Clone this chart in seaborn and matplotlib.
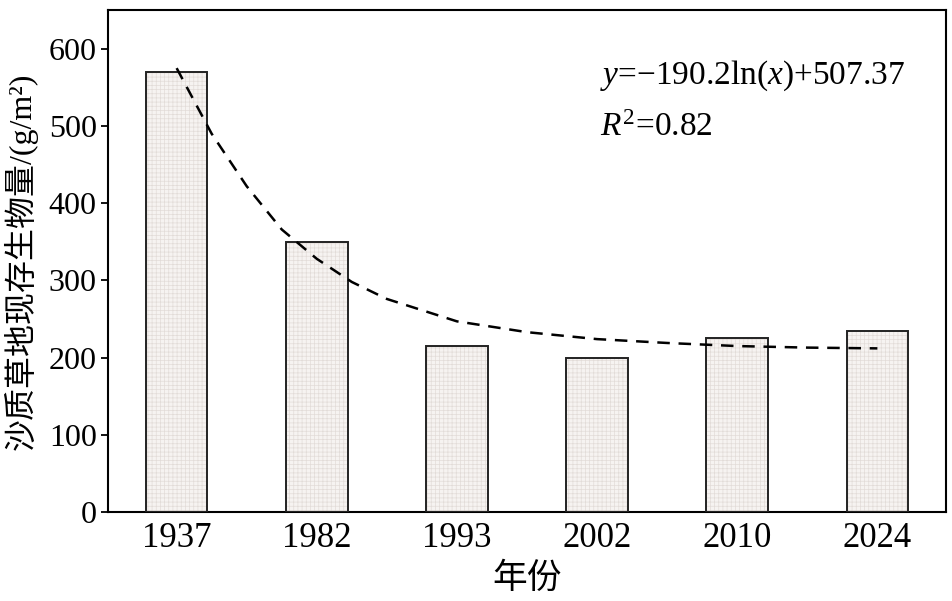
import matplotlib
matplotlib.use("Agg")
import matplotlib.pyplot as plt
from matplotlib.patches import Rectangle
import seaborn as sns
import pandas as pd

sns.set_theme(style="white")
plt.rcParams['font.family'] = ['Liberation Serif', 'Noto Sans CJK SC']
plt.rcParams['mathtext.fontset'] = 'custom'
plt.rcParams['mathtext.rm'] = 'Liberation Serif'
plt.rcParams['mathtext.it'] = 'Liberation Serif:italic'
plt.rcParams['text.color'] = 'black'
plt.rcParams['axes.labelcolor'] = 'black'
plt.rcParams['hatch.linewidth'] = 0.5

# data
years = ["1937", "1982", "1993", "2002", "2010", "2024"]
biomass = [570, 350, 215, 200, 225, 235]

# fitted trend line (x = bar index)
curve_x = [0, 0.25, 0.5, 0.75, 1, 1.25, 1.5, 2, 2.5, 3, 3.5, 4, 4.5, 5]
curve_y = [575, 490, 422, 366, 328, 298, 276, 247, 233, 224, 219, 215, 213, 212]

df = pd.DataFrame({"year": years, "biomass": biomass})

fig = plt.figure(figsize=(9.53, 6.01), dpi=100)
ax = fig.add_axes([0.1133, 0.148, 0.8794, 0.835])

sns.barplot(data=df, x="year", y="biomass", color="#f6f3f1", width=0.44,
            edgecolor="#e2dcd8", linewidth=0, saturation=1, ax=ax)
# fine grid texture inside bars, then a dark outline on top
for p in list(ax.patches):
    p.set_hatch("++++")
    ax.add_patch(Rectangle((p.get_x(), p.get_y()), p.get_width(), p.get_height(),
                           fill=False, edgecolor="#222222", linewidth=1.4, zorder=3))

ax.plot(curve_x, curve_y, color="black", linestyle=(0, (5, 3.5)), linewidth=1.8, zorder=4)

ax.text(3.02, 565, r"$y$=−190.2ln($x$)+507.37", fontsize=24, va="center", ha="left")
ax.text(3.02, 498, r"$R^2$=0.82", fontsize=24, va="center", ha="left")

ax.set_xlim(-0.49, 5.49)
ax.set_ylim(0, 650)
ax.set_yticks(range(0, 601, 100))
ax.set_xlabel("年份", fontsize=25, labelpad=6)
ax.set_ylabel("沙质草地现存生物量/(g/m²)", fontsize=23, labelpad=8)

for s in ax.spines.values():
    s.set_color("black")
    s.set_linewidth(1.5)
ax.tick_params(axis="x", direction="in", length=6, width=1.3, labelsize=25, pad=7, colors="black")
ax.tick_params(axis="y", direction="out", length=5, width=1.3, labelsize=23, pad=3, colors="black")
ax.tick_params(left=True, bottom=True)

fig.savefig("out.png", dpi=100)
